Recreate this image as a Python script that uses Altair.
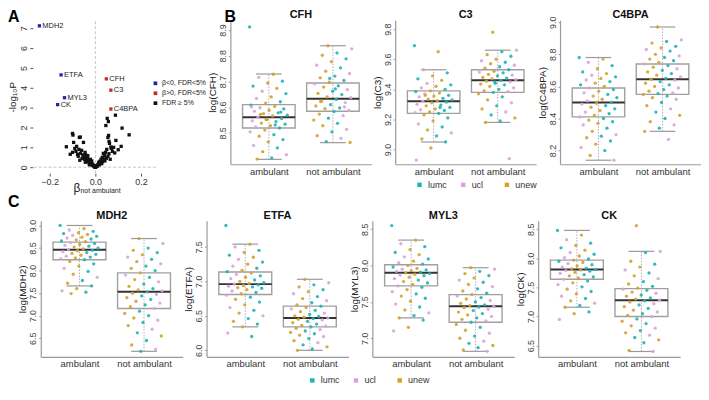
import altair as alt
import pandas as pd

FONT = "Liberation Sans"

# ---------------- Panel A: volcano plot ----------------
hit_names = ["MDH2", "ETFA", "MYL3", "CK", "CFH", "C3", "C4BPA"]
hit_beta = [-0.245, -0.150, -0.135, -0.165, 0.048, 0.068, 0.068]
hit_logp = [7.12, 4.65, 3.50, 3.15, 4.45, 3.88, 2.93]
hit_class = ["β<0, FDR<5%"] * 4 + ["β>0, FDR<5%"] * 3

ns_beta = [-0.100, -0.098, -0.070, -0.066, -0.127, -0.095, -0.052, -0.100, -0.072, -0.060,
           -0.085, -0.078, -0.065, -0.055, -0.050, -0.045, -0.040, -0.048, -0.035, -0.030,
           -0.038, -0.025, -0.028, -0.020, -0.018, -0.015, -0.012, -0.010, -0.008, -0.006,
           -0.004, -0.002, -0.090, -0.082, -0.075, -0.058, -0.042, -0.033, -0.022, -0.016,
           -0.110, -0.068, -0.044, -0.026,
           0.052, 0.057, 0.046, 0.088, 0.117, 0.148, 0.058, 0.055, 0.060, 0.062,
           0.090, 0.113, 0.100, 0.080, 0.070, 0.075, 0.050, 0.045, 0.040, 0.035,
           0.030, 0.038, 0.025, 0.020, 0.022, 0.015, 0.012, 0.010, 0.008, 0.005,
           0.003, 0.060, 0.055, 0.048, 0.042, 0.032, 0.028, 0.018, 0.068, 0.085,
           0.065, 0.000, 0.001, -0.001]
ns_logp = [1.70, 1.62, 1.50, 1.52, 1.03, 1.25, 1.25, 0.75, 0.90, 0.85,
           0.80, 0.65, 0.70, 0.62, 0.55, 0.75, 0.50, 0.40, 0.45, 0.38,
           0.30, 0.30, 0.22, 0.25, 0.15, 0.20, 0.10, 0.12, 0.06, 0.08,
           0.03, 0.02, 0.95, 1.05, 0.55, 0.45, 0.62, 0.58, 0.40, 0.32,
           0.65, 0.35, 0.25, 0.12,
           2.46, 2.30, 2.10, 2.62, 1.97, 1.63, 1.60, 1.50, 1.30, 1.20,
           1.35, 1.05, 0.88, 1.00, 0.95, 0.80, 0.90, 0.75, 0.60, 0.70,
           0.50, 0.42, 0.40, 0.30, 0.20, 0.25, 0.15, 0.10, 0.05, 0.08,
           0.03, 0.68, 0.55, 0.45, 0.32, 0.28, 0.18, 0.12, 1.02, 0.72,
           0.40, 0.00, 0.01, 0.00]

VOLC_CLASSES = ["β<0, FDR<5%", "β>0, FDR<5%", "FDR ≥ 5%"]
VOLC_COLORS = ["#2424a8", "#cc2a2a", "#111111"]

# ---------------- Panels B / C: protein levels ----------------
GROUPS = ["ambulant", "not ambulant"]
COHORTS = ["lumc", "ucl", "unew"]
COHORT_COLORS = ["#1fb3b6", "#d9a2dc", "#d4a12a"]
COHORT_CYCLE = ["lumc", "unew", "ucl", "lumc", "unew", "lumc", "unew", "ucl"]

# box statistics: [lower whisker, Q1, median, Q3, upper whisker]
CFH_BOX_AMB = [8.397, 8.519, 8.561, 8.610, 8.729]
CFH_BOX_NOT = [8.462, 8.584, 8.633, 8.694, 8.839]
C3_BOX_AMB = [9.05, 9.24, 9.32, 9.39, 9.53]
C3_BOX_NOT = [9.18, 9.38, 9.46, 9.53, 9.66]
C4BPA_BOX_AMB = [8.14, 8.41, 8.50, 8.59, 8.78]
C4BPA_BOX_NOT = [8.32, 8.55, 8.645, 8.74, 8.97]
MDH2_BOX_AMB = [7.66, 8.24, 8.46, 8.63, 9.00]
MDH2_BOX_NOT = [6.21, 7.16, 7.53, 7.95, 8.71]
ETFA_BOX_AMB = [6.34, 6.81, 6.96, 7.135, 7.54]
ETFA_BOX_NOT = [6.00, 6.34, 6.47, 6.64, 7.03]
MYL3_BOX_AMB = [7.28, 7.72, 7.90, 8.01, 8.35]
MYL3_BOX_NOT = [6.82, 7.22, 7.44, 7.60, 7.97]
CK_BOX_AMB = [7.16, 7.64, 7.81, 7.97, 8.48]
CK_BOX_NOT = [6.40, 7.00, 7.28, 7.48, 8.12]

# individual samples
CFH_AMB = [8.912, 8.728, 8.716, 8.701, 8.694, 8.682, 8.673, 8.662, 8.653, 8.640, 8.634, 8.621,
           8.616, 8.608, 8.603, 8.598, 8.593, 8.588, 8.584, 8.578, 8.575, 8.569, 8.566, 8.561,
           8.556, 8.553, 8.547, 8.544, 8.538, 8.534, 8.528, 8.523, 8.519, 8.511, 8.504, 8.493,
           8.487, 8.474, 8.465, 8.451, 8.442, 8.427, 8.415, 8.403, 8.398, 8.581, 8.552, 8.601,
           8.531, 8.572]
CFH_NOT = [8.839, 8.827, 8.811, 8.802, 8.788, 8.777, 8.763, 8.753, 8.740, 8.731, 8.721, 8.714,
           8.704, 8.697, 8.691, 8.683, 8.678, 8.668, 8.662, 8.654, 8.649, 8.640, 8.637, 8.630,
           8.623, 8.618, 8.610, 8.605, 8.597, 8.594, 8.587, 8.583, 8.573, 8.567, 8.557, 8.550,
           8.537, 8.528, 8.514, 8.504, 8.489, 8.479, 8.466, 8.463, 8.671, 8.622, 8.601, 8.712]
C3_AMB = [9.69, 9.65, 9.53, 9.51, 9.49, 9.47, 9.46, 9.44, 9.43, 9.42, 9.41, 9.40, 9.39, 9.385,
          9.375, 9.37, 9.36, 9.355, 9.35, 9.34, 9.335, 9.33, 9.325, 9.32, 9.315, 9.31, 9.30,
          9.295, 9.29, 9.28, 9.27, 9.265, 9.26, 9.25, 9.245, 9.24, 9.23, 9.21, 9.19, 9.17, 9.15,
          9.13, 9.11, 9.09, 9.07, 9.05, 9.01, 8.93, 9.28, 9.36]
C3_NOT = [9.78, 9.66, 9.65, 9.63, 9.62, 9.60, 9.59, 9.58, 9.57, 9.56, 9.55, 9.54, 9.53, 9.52,
          9.515, 9.51, 9.50, 9.495, 9.49, 9.48, 9.475, 9.47, 9.465, 9.46, 9.455, 9.45, 9.44,
          9.435, 9.43, 9.42, 9.41, 9.40, 9.39, 9.385, 9.38, 9.37, 9.35, 9.33, 9.31, 9.29, 9.27,
          9.25, 9.23, 9.21, 9.19, 9.18, 8.94, 9.45]
C4BPA_AMB = [8.78, 8.77, 8.75, 8.73, 8.71, 8.69, 8.68, 8.67, 8.66, 8.65, 8.64, 8.63, 8.62, 8.61,
             8.60, 8.59, 8.58, 8.57, 8.56, 8.55, 8.54, 8.53, 8.52, 8.51, 8.50, 8.495, 8.49, 8.48,
             8.47, 8.46, 8.45, 8.44, 8.43, 8.42, 8.41, 8.40, 8.39, 8.38, 8.37, 8.36, 8.34, 8.32,
             8.30, 8.29, 8.28, 8.26, 8.24, 8.22, 8.20, 8.17, 8.14]
C4BPA_NOT = [8.97, 8.89, 8.88, 8.87, 8.85, 8.84, 8.83, 8.82, 8.80, 8.79, 8.78, 8.77, 8.76, 8.75,
             8.74, 8.73, 8.72, 8.71, 8.70, 8.69, 8.68, 8.67, 8.66, 8.65, 8.645, 8.64, 8.63, 8.62,
             8.61, 8.60, 8.59, 8.58, 8.57, 8.56, 8.555, 8.55, 8.54, 8.53, 8.52, 8.50, 8.48, 8.46,
             8.44, 8.42, 8.40, 8.38, 8.36, 8.34, 8.32, 8.27]
MDH2_AMB = [9.00, 8.93, 8.90, 8.87, 8.84, 8.82, 8.80, 8.78, 8.76, 8.74, 8.72, 8.70, 8.68, 8.66,
            8.64, 8.62, 8.60, 8.58, 8.56, 8.54, 8.52, 8.50, 8.48, 8.46, 8.45, 8.44, 8.42, 8.40,
            8.38, 8.36, 8.34, 8.32, 8.30, 8.28, 8.26, 8.24, 8.20, 8.15, 8.10, 8.05, 7.98, 7.92,
            7.85, 7.78, 7.72, 7.66, 7.60, 7.55, 7.52, 7.49]
MDH2_NOT = [8.71, 8.60, 8.50, 8.45, 8.40, 8.35, 8.30, 8.25, 8.20, 8.15, 8.10, 8.05, 8.00, 7.95,
            7.90, 7.85, 7.80, 7.75, 7.70, 7.65, 7.60, 7.57, 7.55, 7.53, 7.50, 7.47, 7.44, 7.40,
            7.36, 7.32, 7.28, 7.24, 7.20, 7.16, 7.10, 7.05, 7.00, 6.95, 6.90, 6.85, 6.78, 6.70,
            6.62, 6.55, 6.45, 6.35, 6.25, 6.21]
ETFA_AMB = [7.81, 7.54, 7.50, 7.45, 7.42, 7.38, 7.35, 7.32, 7.28, 7.25, 7.22, 7.19, 7.16, 7.14,
            7.12, 7.10, 7.08, 7.06, 7.04, 7.02, 7.00, 6.98, 6.97, 6.96, 6.95, 6.94, 6.93, 6.92,
            6.91, 6.90, 6.88, 6.86, 6.84, 6.82, 6.80, 6.77, 6.74, 6.70, 6.66, 6.62, 6.58, 6.54,
            6.50, 6.46, 6.42, 6.38, 6.34, 6.25, 6.20]
ETFA_NOT = [7.03, 6.98, 6.95, 6.92, 6.88, 6.85, 6.82, 6.78, 6.75, 6.72, 6.69, 6.66, 6.64, 6.62,
            6.60, 6.58, 6.56, 6.54, 6.52, 6.50, 6.49, 6.48, 6.47, 6.46, 6.45, 6.44, 6.42, 6.40,
            6.38, 6.36, 6.35, 6.34, 6.32, 6.30, 6.28, 6.26, 6.24, 6.22, 6.20, 6.17, 6.14, 6.11,
            6.08, 6.05, 6.02, 6.00]
MYL3_AMB = [8.55, 8.35, 8.30, 8.26, 8.22, 8.18, 8.15, 8.12, 8.09, 8.06, 8.04, 8.02, 8.00, 7.98,
            7.96, 7.95, 7.94, 7.93, 7.92, 7.91, 7.90, 7.89, 7.88, 7.87, 7.86, 7.84, 7.82, 7.80,
            7.78, 7.76, 7.74, 7.72, 7.70, 7.67, 7.64, 7.61, 7.58, 7.55, 7.51, 7.47, 7.43, 7.39,
            7.35, 7.31, 7.28, 7.25, 7.15, 7.10]
MYL3_NOT = [7.97, 7.95, 7.92, 7.89, 7.86, 7.83, 7.80, 7.77, 7.74, 7.71, 7.68, 7.65, 7.62, 7.60,
            7.58, 7.56, 7.54, 7.52, 7.50, 7.48, 7.46, 7.45, 7.44, 7.43, 7.42, 7.40, 7.38, 7.36,
            7.34, 7.32, 7.30, 7.28, 7.26, 7.24, 7.22, 7.19, 7.15, 7.11, 7.07, 7.03, 7.00, 6.96,
            6.93, 6.90, 6.87, 6.84, 6.82]
CK_AMB = [8.48, 8.40, 8.32, 8.26, 8.22, 8.18, 8.14, 8.10, 8.07, 8.04, 8.01, 7.99, 7.97, 7.95,
          7.93, 7.91, 7.89, 7.87, 7.85, 7.83, 7.82, 7.81, 7.80, 7.79, 7.78, 7.76, 7.74, 7.72,
          7.70, 7.68, 7.66, 7.64, 7.61, 7.58, 7.55, 7.51, 7.47, 7.43, 7.39, 7.35, 7.31, 7.27,
          7.23, 7.19, 7.16, 7.08, 7.05, 6.95]
CK_NOT = [8.56, 8.12, 8.10, 7.95, 7.90, 7.85, 7.80, 7.75, 7.70, 7.65, 7.60, 7.56, 7.52, 7.49,
          7.47, 7.45, 7.42, 7.40, 7.37, 7.35, 7.32, 7.30, 7.28, 7.27, 7.25, 7.22, 7.20, 7.17,
          7.14, 7.11, 7.08, 7.05, 7.02, 7.00, 6.96, 6.92, 6.88, 6.84, 6.80, 6.76, 6.72, 6.68,
          6.64, 6.60, 6.55, 6.42, 6.40]


# ---------------- helpers ----------------
def letter(txt, x, y):
    return alt.Chart(pd.DataFrame({"t": [txt]})).mark_text(
        align="left", baseline="alphabetic", fontSize=16, fontWeight="bold", font=FONT,
        color="#000").encode(x=alt.value(x), y=alt.value(y), text="t:N")


def panel_title(txt, w):
    return alt.Chart(pd.DataFrame({"t": [txt]})).mark_text(
        align="center", baseline="alphabetic", fontSize=11, fontWeight="bold", font=FONT,
        color="#111").encode(x=alt.value(w / 2), y=alt.value(-2), text="t:N")


XSC = alt.Scale(domain=[0.4, 2.6], nice=False, zero=False)
XAX = alt.Axis(values=[1, 2], labelExpr="datum.value == 1 ? 'ambulant' : 'not ambulant'",
               ticks=False, grid=False, domainColor="#9a9a9a", domainWidth=1.2,
               labelFontSize=9.5, labelColor="#333", labelPadding=2, labelFlush=False,
               title=None, labelFont=FONT)


def box_panel(name, amb, nam, box_amb, box_nam, ydom, yticks, w, h,
              legend=None, lett=None):
    ysc = alt.Scale(domain=ydom, nice=False, zero=False)
    yax = alt.Axis(values=yticks, format=".1f", labelAngle=-90, labelAlign="center",
                   labelBaseline="bottom", grid=False, tickSize=2, tickColor="#9a9a9a",
                   domainColor="#9a9a9a", domainWidth=1.2, labelFontSize=9, labelColor="#444",
                   labelPadding=1, labelFont=FONT, title=f"log({name})", titleFontSize=10,
                   titleFontWeight="normal", titleColor="#222", titlePadding=1, titleFont=FONT)
    rows = []
    for gi, vals in enumerate([amb, nam]):
        for i, v in enumerate(vals):
            off = (((i * 0.6180339887) + gi * 0.37) % 1.0 - 0.5) * 0.6
            rows.append({"x": gi + 1 + off, "v": v,
                         "cohort": COHORT_CYCLE[(i + gi) % len(COHORT_CYCLE)]})
    pts = pd.DataFrame(rows)
    st = pd.DataFrame({"pos": [1, 2],
                       "lo": [box_amb[0], box_nam[0]], "q1": [box_amb[1], box_nam[1]],
                       "med": [box_amb[2], box_nam[2]], "q3": [box_amb[3], box_nam[3]],
                       "hi": [box_amb[4], box_nam[4]]})
    st["l"] = st["pos"] - 0.41
    st["r"] = st["pos"] + 0.41
    st["cl"] = st["pos"] - 0.2
    st["cr"] = st["pos"] + 0.2

    def X(f):
        return alt.X(f, scale=XSC, axis=XAX)

    def Y(f):
        return alt.Y(f, scale=ysc, axis=yax)

    b = alt.Chart(st)
    whisk = b.mark_rule(color="#b4a9bb", strokeDash=[1.5, 1.5], strokeWidth=1).encode(
        x=X("pos:Q"), y=Y("lo:Q"), y2="hi:Q")
    cap_lo = b.mark_rule(color="#9a9a9a", strokeWidth=1.2).encode(x=X("cl:Q"), x2="cr:Q", y=Y("lo:Q"))
    cap_hi = b.mark_rule(color="#9a9a9a", strokeWidth=1.2).encode(x=X("cl:Q"), x2="cr:Q", y=Y("hi:Q"))
    box = b.mark_rect(fill="white", fillOpacity=0, stroke="#a0a0a0", strokeWidth=1.4).encode(
        x=X("l:Q"), x2="r:Q", y=Y("q1:Q"), y2="q3:Q")
    med = b.mark_rule(color="#333333", strokeWidth=2).encode(x=X("l:Q"), x2="r:Q", y=Y("med:Q"))
    dots = alt.Chart(pts).mark_circle(size=11, opacity=0.9).encode(
        x=X("x:Q"), y=Y("v:Q"),
        color=alt.Color("cohort:N", scale=alt.Scale(domain=COHORTS, range=COHORT_COLORS),
                        legend=legend))
    layers = [whisk, cap_lo, cap_hi, box, med, dots, panel_title(name, w)]
    if lett is not None:
        layers.append(letter(*lett))
    return alt.layer(*layers).properties(width=w, height=h)


def cohort_legend(lx, ly):
    return alt.Legend(orient="none", legendX=lx, legendY=ly, direction="horizontal", title=None,
                      symbolType="square", symbolSize=20, symbolStrokeWidth=0, symbolOpacity=1,
                      labelFontSize=9, labelColor="#333", labelFont=FONT, columnPadding=9,
                      labelOffset=4, gridAlign="all")


# ---------------- Panel A ----------------
AW, AH = 167, 154
AX = alt.Scale(domain=[-0.239, 0.487], nice=False, zero=False)
AY = alt.Scale(domain=[-0.3, 7.4], nice=False, zero=False)
ax_x = alt.Axis(values=[-0.2, 0.0, 0.2], format=".1f", grid=False, domain=False, tickSize=3,
                tickColor="#555", labelFontSize=9, labelColor="#333", labelPadding=1,
                labelFlush=False, title=None, labelFont=FONT)
ax_y = alt.Axis(values=list(range(8)), format="d", labelAngle=-90, labelAlign="center",
                labelBaseline="bottom", grid=False, domain=False, tickSize=3, tickColor="#555",
                labelFontSize=9, labelColor="#333", labelPadding=1, offset=8, labelFont=FONT,
                title="-log₁₀P", titleFontSize=10, titleFontWeight="normal", titleColor="#222",
                titlePadding=2, titleFont=FONT)

vdf = pd.DataFrame({"beta": ns_beta + hit_beta, "logp": ns_logp + hit_logp,
                    "cls": ["FDR ≥ 5%"] * len(ns_beta) + hit_class})
hits = pd.DataFrame({"beta": hit_beta, "logp": hit_logp, "name": hit_names})
ref = pd.DataFrame({"zero": [0.0], "ylo": [-0.3], "yhi": [7.4], "xlo": [-0.27], "xhi": [0.27]})

vline = alt.Chart(ref).mark_rule(color="#c4c4c4", strokeDash=[3, 2], strokeWidth=1).encode(
    x=alt.X("zero:Q", scale=AX, axis=ax_x), y=alt.Y("ylo:Q", scale=AY, axis=ax_y), y2="yhi:Q")
hline = alt.Chart(ref).mark_rule(color="#c4c4c4", strokeDash=[3, 2], strokeWidth=1).encode(
    x=alt.X("xlo:Q", scale=AX, axis=ax_x), x2="xhi:Q", y=alt.Y("zero:Q", scale=AY, axis=ax_y))
vpts = alt.Chart(vdf).mark_point(shape="square", filled=True, size=11, opacity=1).encode(
    x=alt.X("beta:Q", scale=AX, axis=ax_x), y=alt.Y("logp:Q", scale=AY, axis=ax_y),
    color=alt.Color("cls:N", scale=alt.Scale(domain=VOLC_CLASSES, range=VOLC_COLORS),
                    legend=alt.Legend(orient="none", legendX=112, legendY=60, title=None,
                                      symbolType="square", symbolSize=14, symbolStrokeWidth=0,
                                      labelFontSize=7, labelColor="#222", labelFont=FONT,
                                      rowPadding=2, labelOffset=3)))
vlab = alt.Chart(hits).mark_text(align="left", baseline="middle", dx=3, fontSize=7.5,
                                 font=FONT, color="#222").encode(
    x=alt.X("beta:Q", scale=AX, axis=ax_x), y=alt.Y("logp:Q", scale=AY, axis=ax_y), text="name:N")
beta_t = alt.Chart(pd.DataFrame({"t": ["β"]})).mark_text(
    align="left", baseline="middle", fontSize=12, font=FONT, color="#222").encode(
    x=alt.value(33), y=alt.value(AH + 15), text="t:N")
beta_sub = alt.Chart(pd.DataFrame({"t": ["not ambulant"]})).mark_text(
    align="left", baseline="middle", fontSize=7, font=FONT, color="#222").encode(
    x=alt.value(40), y=alt.value(AH + 18), text="t:N")

panelA = alt.layer(vline, hline, vpts, vlab, beta_t, beta_sub, letter("A", -33, 2)).properties(
    width=AW, height=AH)

# ---------------- Panels B ----------------
BW, BH = 142, 145
cfh = box_panel("CFH", CFH_AMB, CFH_NOT, CFH_BOX_AMB, CFH_BOX_NOT, [8.378, 8.938],
                [8.5, 8.6, 8.7, 8.8, 8.9], BW, BH, lett=("B", -6, 2))
c3 = box_panel("C3", C3_AMB, C3_NOT, C3_BOX_AMB, C3_BOX_NOT, [8.902, 9.859],
               [9.0, 9.2, 9.4, 9.6, 9.8], BW, BH, legend=cohort_legend(20, 161))
c4 = box_panel("C4BPA", C4BPA_AMB, C4BPA_NOT, C4BPA_BOX_AMB, C4BPA_BOX_NOT, [8.115, 9.012],
               [8.2, 8.4, 8.6, 8.8, 9.0], BW, BH)

# ---------------- Panels C ----------------
CW, CH = 143, 137
mdh2 = box_panel("MDH2", MDH2_AMB, MDH2_NOT, MDH2_BOX_AMB, MDH2_BOX_NOT, [6.087, 9.103],
                 [6.5, 7.0, 7.5, 8.0, 8.5, 9.0], CW, CH, lett=("C", -33, -14))
etfa = box_panel("ETFA", ETFA_AMB, ETFA_NOT, ETFA_BOX_AMB, ETFA_BOX_NOT, [5.905, 7.878],
                 [6.0, 6.5, 7.0, 7.5], CW, CH, legend=cohort_legend(102, 156))
myl3 = box_panel("MYL3", MYL3_AMB, MYL3_NOT, MYL3_BOX_AMB, MYL3_BOX_NOT, [6.744, 8.615],
                 [7.0, 7.5, 8.0, 8.5], CW, CH)
ck = box_panel("CK", CK_AMB, CK_NOT, CK_BOX_AMB, CK_BOX_NOT, [6.308, 8.644],
               [6.5, 7.0, 7.5, 8.0, 8.5], CW, CH)

row1 = alt.hconcat(panelA, cfh, c3, c4, spacing=24, bounds="flush").resolve_scale(
    color="independent")
row2 = alt.hconcat(mdh2, etfa, myl3, ck, spacing=24, bounds="flush").resolve_scale(
    color="independent")

chart = (
    alt.vconcat(row1, row2, spacing=0)
    .resolve_scale(color="independent")
    .properties(padding=0)
    .configure(font=FONT)
    .configure_view(stroke=None)
)

chart.save("out.html", embed_options={"renderer": "svg", "actions": False})
